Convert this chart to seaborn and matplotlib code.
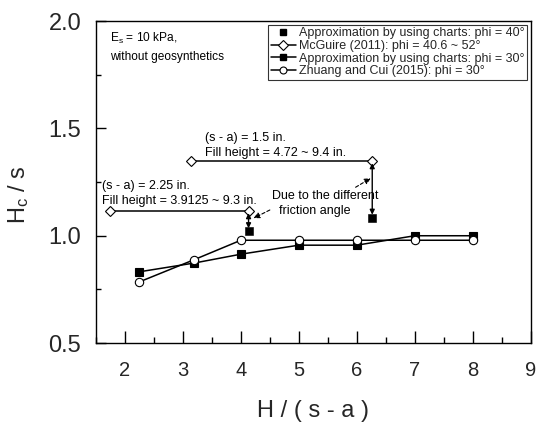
"""Hc/s versus H/(s-a) comparison chart."""

import matplotlib

matplotlib.use("Agg")
import matplotlib.pyplot as plt
import pandas as pd
import seaborn as sns
from matplotlib.lines import Line2D
from matplotlib.ticker import MultipleLocator

# Zhuang and Cui (2015): phi = 30
ZHUANG_X = [2.25, 3.2, 4, 5, 6, 7, 8]
ZHUANG_Y = [0.785, 0.889, 0.979, 0.979, 0.979, 0.979, 0.979]

# approximation by using charts: phi = 30
CHART30_X = [2.25, 3.2, 4, 5, 6, 7, 8]
CHART30_Y = [0.832, 0.873, 0.914, 0.956, 0.956, 1.0, 1.0]

# McGuire (2011): two fill-height ranges
MCGUIRE_X = [1.739, 4.133, 3.147, 6.267]
MCGUIRE_Y = [1.115, 1.115, 1.35, 1.35]
MCGUIRE_SEG = ["s-a=2.25", "s-a=2.25", "s-a=1.5", "s-a=1.5"]

# approximation by using charts: phi = 40
CHART40_X = [4.133, 6.267]
CHART40_Y = [1.021, 1.085]

LABELS = [
    "Approximation by using charts: phi = 40°",
    "McGuire (2011): phi = 40.6 ~ 52°",
    "Approximation by using charts: phi = 30°",
    "Zhuang and Cui (2015): phi = 30°",
]


def main():
    sns.set_style("white")
    plt.rcParams["font.family"] = ["Liberation Sans", "DejaVu Sans"]
    plt.rcParams["mathtext.default"] = "regular"

    fig = plt.figure(figsize=(5.36, 4.24), dpi=100)
    ax = fig.add_axes([0.179, 0.191, 0.811, 0.759])

    zhuang = pd.DataFrame({"x": ZHUANG_X, "y": ZHUANG_Y})
    chart30 = pd.DataFrame({"x": CHART30_X, "y": CHART30_Y})
    mcguire = pd.DataFrame({"x": MCGUIRE_X, "y": MCGUIRE_Y, "seg": MCGUIRE_SEG})
    chart40 = pd.DataFrame({"x": CHART40_X, "y": CHART40_Y})

    line_kw = dict(color="black", linewidth=1.1, markeredgecolor="black",
                   markeredgewidth=0.8, estimator=None, sort=False, ax=ax)
    sns.lineplot(data=chart30, x="x", y="y", marker="s", markersize=5.2,
                 markerfacecolor="black", **line_kw)
    sns.lineplot(data=zhuang, x="x", y="y", marker="o", markersize=6.0,
                 markerfacecolor="white", **line_kw)
    sns.lineplot(data=mcguire, x="x", y="y", units="seg", marker="D", markersize=5.3,
                 markerfacecolor="white", **line_kw)
    sns.scatterplot(data=chart40, x="x", y="y", marker="s", color="black", s=26,
                    edgecolor="black", ax=ax, zorder=5)

    # double arrows: difference due to friction angle
    for x0, y_top, y_bot in [(4.133, 1.105, 1.035), (6.267, 1.338, 1.098)]:
        ax.annotate("", xy=(x0, y_bot), xytext=(x0, y_top),
                    arrowprops=dict(arrowstyle="<|-|>", color="black", lw=1.0,
                                    mutation_scale=7, shrinkA=0, shrinkB=0))
    # dashed pointers from the note
    ax.annotate("", xy=(4.22, 1.082), xytext=(4.5, 1.12),
                arrowprops=dict(arrowstyle="-|>", color="black", lw=0.8, ls=(0, (3, 2)),
                                mutation_scale=9, shrinkA=0, shrinkB=0))
    ax.annotate("", xy=(6.24, 1.268), xytext=(5.98, 1.226),
                arrowprops=dict(arrowstyle="-|>", color="black", lw=0.8, ls=(0, (3, 2)),
                                mutation_scale=9, shrinkA=0, shrinkB=0))

    txt = dict(color="black", va="top", ha="left", linespacing=1.35)
    ax.text(1.74, 1.955, "E$_{s}$ = 10 kPa,\nwithout geosynthetics", fontsize=8.6,
            **{**txt, "linespacing": 1.55})
    ax.text(3.38, 1.484, "(s - a) = 1.5 in.\nFill height = 4.72 ~ 9.4 in.", fontsize=9, **txt)
    ax.text(1.60, 1.260, "(s - a) = 2.25 in.\nFill height = 3.9125 ~ 9.3 in.", fontsize=9, **txt)
    ax.text(4.53, 1.214, "Due to the different\n  friction angle", fontsize=9, **txt)

    ax.set_xlim(1.5, 9)
    ax.set_ylim(0.5, 2.0)
    ax.xaxis.set_major_locator(MultipleLocator(1))
    ax.xaxis.set_minor_locator(MultipleLocator(0.5))
    ax.yaxis.set_major_locator(MultipleLocator(0.5))
    ax.yaxis.set_minor_locator(MultipleLocator(0.25))
    ax.tick_params(axis="both", which="both", direction="in", bottom=True, left=True,
                   top=False, right=False, color="black", width=1.0)
    ax.tick_params(axis="x", which="major", length=8.5, labelsize=14.5, pad=13)
    ax.tick_params(axis="x", which="minor", length=4.5)
    ax.tick_params(axis="y", which="major", length=7, labelsize=17, pad=10.5)
    ax.tick_params(axis="y", which="minor", length=3.5)
    ax.set_xticks(range(2, 10))
    ax.set_yticks([0.5, 1.0, 1.5, 2.0])
    ax.set_yticklabels(["0.5", "1.0", "1.5", "2.0"])

    for spine in ax.spines.values():
        spine.set_color("black")
        spine.set_linewidth(1.0)

    ax.set_xlabel("H / ( s - a )", fontsize=17, labelpad=14)
    ax.set_ylabel("H$_{c}$ / s", fontsize=17)
    ax.yaxis.set_label_coords(-0.15, 0.46)

    handles = [
        Line2D([], [], color="black", linestyle="none", marker="s", markersize=5),
        Line2D([], [], color="black", lw=1.1, marker="D", markersize=5,
               markerfacecolor="white", markeredgecolor="black", markeredgewidth=0.8),
        Line2D([], [], color="black", lw=1.1, marker="s", markersize=5,
               markerfacecolor="black"),
        Line2D([], [], color="black", lw=1.1, marker="o", markersize=5,
               markerfacecolor="white", markeredgecolor="black", markeredgewidth=0.8),
    ]
    leg = ax.legend(handles, LABELS, loc="upper right", fontsize=9, frameon=True,
                    fancybox=False, borderaxespad=0.3, handlelength=2.0,
                    handletextpad=0.25, borderpad=0.2, labelspacing=0.05)
    leg.get_frame().set_edgecolor("black")
    leg.get_frame().set_linewidth(0.8)

    fig.savefig("out.png", dpi=100)


if __name__ == "__main__":
    main()
